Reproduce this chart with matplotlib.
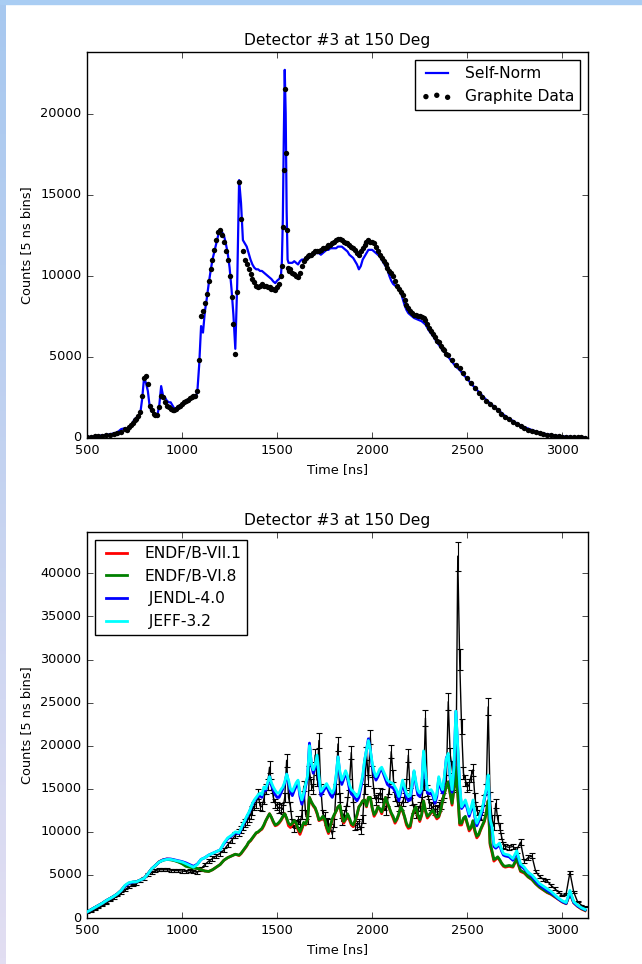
import numpy as np
import matplotlib
matplotlib.use('Agg')
import matplotlib.pyplot as plt
from matplotlib.colors import LinearSegmentedColormap
from matplotlib.patches import Rectangle

# ---- top panel: graphite run, self-normalised simulation ----
t_top = np.concatenate([np.arange(500, 700, 20), np.arange(700, 1520, 10),
                        np.arange(1520, 1560, 5), np.arange(1560, 2400, 10),
                        np.arange(2400, 3140, 20)])

graphite = [60, 80, 100, 120, 150, 180, 210, 250, 300, 380,
            # 700 - 1510
            550, 500, 650, 800, 950, 1100, 1200, 1350, 1600, 2600,
            3700, 3800, 3300, 2000, 1700, 1500, 1400, 1400, 1900, 2600,
            2500, 2200, 2000, 1900, 1800, 1750, 1750, 1800, 1900, 2000,
            2100, 2200, 2300, 2350, 2450, 2550, 2600, 2600, 2900, 4800,
            7500, 7800, 8300, 8900, 9700, 10400, 11000, 11600, 12200, 12700,
            12800, 12500, 12100, 11500, 11000, 10000, 8700, 7000, 5200, 9000,
            15800, 13500, 11500, 11000, 10700, 10400, 10100, 9800, 9600, 9400,
            9300, 9400, 9500, 9400, 9400, 9300, 9300, 9200, 9200, 9100,
            9300, 9500,
            # 1520 - 1555
            10000, 10600, 13000, 16500, 21500, 17600, 12800, 10500,
            # 1560 - 2390
            10300, 10400, 10200, 10100, 10000, 9900, 10200, 10600, 10900, 11100,
            11200, 11300, 11300, 11400, 11500, 11500, 11500, 11600, 11700, 11700,
            11800, 11900, 11900, 12000, 12100, 12200, 12300, 12300, 12200, 12100,
            12000, 12000, 11900, 11800, 11700, 11600, 11400, 11300, 11500, 11700,
            11900, 12100, 12200, 12100, 12100, 12000, 11800, 11500, 11300, 11100,
            10900, 10700, 10500, 10300, 10200, 10000, 9700, 9400, 9200, 9000,
            8800, 8500, 8200, 8000, 7800, 7700, 7600, 7600, 7500, 7500,
            7450, 7400, 7300, 7000, 6800, 6600, 6400, 6200, 6000, 5900,
            5700, 5500, 5400, 5200,
            # 2400 - 3120
            5100, 4800, 4500, 4300, 4000, 3700, 3400, 3100, 2800, 2550,
            2300, 2100, 1900, 1700, 1500, 1300, 1150, 1000, 850, 720,
            610, 520, 440, 370, 300, 250, 200, 160, 130, 100,
            85, 70, 60, 50, 40, 35, 30]

self_norm = [50, 70, 100, 130, 160, 190, 230, 280, 350, 550,
             600, 480, 550, 750, 950, 1150, 1250, 1350, 1500, 2400,
             3700, 3400, 2900, 1900, 1650, 1550, 1450, 1400, 2000, 3200,
             2600, 2500, 2300, 2200, 2200, 2000, 1800, 1800, 1900, 2000,
             2100, 2200, 2250, 2300, 2400, 2500, 2550, 2500, 2800, 4500,
             6900, 6500, 7800, 8600, 9500, 10300, 11000, 11500, 12000, 12500,
             12800, 12700, 12500, 12000, 11400, 10500, 9200, 7600, 5500, 9500,
             15900, 14500, 12200, 12000, 11800, 11400, 11000, 10700, 10500, 10400,
             10400, 10300, 10300, 10200, 10100, 10000, 9900, 9800, 9650, 9550,
             9700, 9800,
             10000, 10900, 13500, 18500, 22700, 20000, 14000, 11000,
             10800, 10800, 10800, 10900, 10800, 10700, 10900, 11000, 11000, 11100,
             11100, 11150, 11200, 11300, 11400, 11400, 11400, 11300, 11400, 11500,
             11600, 11600, 11700, 11700, 11700, 11700, 11800, 11800, 11800, 11700,
             11600, 11500, 11300, 11200, 11100, 10900, 10700, 10400, 10600, 11000,
             11200, 11400, 11600, 11600, 11600, 11500, 11400, 11300, 11200, 11000,
             10800, 10600, 10400, 10000, 9700, 9500, 9400, 9300, 9200, 9000,
             8600, 8200, 7900, 7700, 7600, 7500, 7400, 7350, 7300, 7250,
             7200, 7100, 7000, 6800, 6600, 6450, 6300, 6100, 5900, 5750,
             5600, 5400, 5300, 5100,
             5000, 4700, 4400, 4200, 3900, 3650, 3350, 3100, 2850, 2600,
             2350, 2150, 1950, 1750, 1550, 1350, 1200, 1060, 910, 780,
             670, 580, 490, 410, 340, 280, 230, 190, 150, 120,
             100, 80, 70, 60, 50, 40, 35]

# ---- bottom panel: measured spectrum vs. evaluated libraries ----
t_bot = np.concatenate([np.arange(500, 1300, 20), np.arange(1300, 2700, 10),
                        np.arange(2700, 3140, 20)])

data_bot = [600, 800, 1000, 1200, 1450, 1700, 2000, 2300, 2600, 2900,
            3300, 3600, 3800, 4000, 4300, 4600, 5000, 5300, 5500, 5600,
            5600, 5600, 5550, 5500, 5500, 5450, 5400, 5500, 5400, 5300,
            5700, 6200, 6600, 6900, 7200, 7500, 7900, 8500, 9000, 9600,
            # 1300 - 2690
            9900, 10300, 10700, 11000, 11200, 11600, 12000, 12500, 13000, 13300,
            14400, 13000, 12900, 13800, 15000, 15500, 17500, 15500, 14000, 13300,
            13000, 12700, 12800, 12600, 14000, 18300, 14000, 12900, 11000, 10400,
            10900, 11400, 11000, 12000, 15300, 12000, 11400, 17000, 15500, 15000,
            18900, 16000, 20600, 15000, 12100, 11800, 11200, 11000, 10500, 9700,
            11000, 15000, 20200, 14000, 11200, 12000, 12500, 13500, 15500, 19200,
            14000, 10600, 10800, 11000, 10200, 11500, 15000, 19100, 16000, 21000,
            17000, 14500, 13700, 14000, 14500, 14400, 13000, 12500, 13500, 15000,
            19300, 16500, 14100, 13500, 12900, 13000, 13500, 14000, 15500, 18900,
            14500, 13700, 12700, 12100, 12500, 12900, 13500, 15500, 23200, 14800,
            13300, 13000, 12800, 12500, 12600, 12900, 13200, 14000, 14500, 16000,
            25100, 19000, 17500, 15500, 15200, 42000, 30000, 22200, 16800, 16000,
            15200, 15500, 16500, 17200, 14000, 12500, 12000, 11800, 12500, 13700,
            15000, 24500, 14100, 11500, 10600, 13300, 11500, 10600, 9500, 8500,
            # 2700 - 3120
            8300, 8200, 8300, 7900, 8800, 6600, 7000, 7200, 5400, 4800,
            4500, 4300, 3800, 3400, 3000, 2600, 2800, 5300, 3000, 1900,
            1500, 1300]

data_err = [40, 50, 50, 60, 60, 70, 80, 90, 100, 110,
            120, 130, 130, 140, 150, 160, 180, 190, 190, 200,
            200, 200, 190, 190, 190, 190, 190, 190, 190, 190,
            200, 220, 230, 240, 250, 260, 280, 300, 320, 340,
            400, 410, 430, 440, 450, 460, 480, 500, 520, 530,
            580, 520, 520, 550, 600, 620, 700, 620, 560, 530,
            520, 510, 510, 500, 560, 730, 560, 520, 440, 420,
            440, 460, 440, 480, 610, 480, 460, 680, 620, 600,
            760, 640, 820, 600, 480, 470, 450, 440, 420, 390,
            440, 600, 810, 560, 450, 480, 500, 540, 620, 770,
            560, 420, 430, 440, 410, 460, 600, 760, 640, 840,
            680, 580, 550, 560, 580, 580, 520, 500, 540, 600,
            770, 660, 560, 540, 520, 520, 540, 560, 620, 760,
            580, 550, 510, 480, 500, 520, 540, 620, 930, 590,
            530, 520, 510, 500, 500, 520, 530, 560, 580, 640,
            1000, 760, 700, 620, 610, 1680, 1200, 890, 670, 640,
            610, 620, 660, 690, 560, 500, 480, 470, 500, 550,
            600, 980, 560, 460, 420, 530, 460, 420, 380, 340,
            330, 330, 330, 320, 350, 260, 280, 290, 220, 190,
            180, 170, 150, 140, 120, 100, 110, 210, 120, 80,
            60, 50]

endf71 = [700, 950, 1200, 1450, 1700, 2000, 2250, 2500, 2800, 3200,
          3750, 4050, 4150, 4200, 4400, 4600, 5100, 5700, 6100, 6550,
          6750, 6850, 6800, 6700, 6550, 6350, 6100, 6000, 5850, 5750,
          5600, 5450, 5400, 5600, 5900, 6200, 6700, 7000, 7200, 7400,
          7250, 7450, 7750, 8050, 8350, 8750, 8950, 9250, 9550, 9850,
          9950, 10150, 10300, 10700, 11250, 11700, 12100, 11650, 11100, 10700,
          10800, 11000, 11300, 11700, 12100, 11500, 10700, 10500, 10900, 11200,
          10900, 10200, 9700, 10300, 11000, 10800, 11500, 14000, 13400, 13000,
          12700, 12100, 11300, 11400, 11700, 11300, 10400, 9800, 10600, 11400,
          11900, 12400, 12900, 13000, 11800, 11000, 11400, 12000, 11400, 10800,
          10600, 11200, 11900, 12900, 13200, 13600, 13700, 12900, 14000, 14000,
          12700, 11800, 12200, 12900, 12600, 12100, 12900, 14000, 13300, 12700,
          12100, 11600, 11000, 11400, 12000, 12900, 12400, 11700, 10800, 10400,
          10500, 11700, 12500, 12800, 11900, 11200, 11900, 13600, 12400, 11600,
          11900, 12200, 12400, 11900, 11500, 11700, 12400, 13600, 14500, 15300,
          15800, 14400, 13100, 15000, 17500, 14400, 10800, 10800, 11500, 11700,
          10900, 10100, 10400, 11200, 10000, 9300, 9600, 10200, 10700, 11200,
          12200, 13600, 8500, 7600, 6600, 6800, 7000, 6700, 6300, 6000,
          5900, 6000, 5900, 6800, 5400, 5200, 4750, 4450, 3950, 3550,
          3250, 2950, 2750, 2450, 2150, 1850, 1650, 2850, 1750, 1350,
          1050, 850]

endf68 = [700, 950, 1200, 1450, 1700, 2000, 2250, 2500, 2800, 3200,
          3700, 4000, 4150, 4200, 4400, 4600, 5100, 5700, 6100, 6500,
          6700, 6800, 6750, 6650, 6500, 6300, 6000, 5900, 5800, 5750,
          5600, 5450, 5400, 5600, 5900, 6200, 6700, 7000, 7200, 7400,
          7300, 7500, 7800, 8100, 8400, 8800, 9000, 9300, 9600, 9900,
          10000, 10200, 10400, 10800, 11300, 11700, 12100, 11700, 11200, 10800,
          10900, 11100, 11400, 11800, 12100, 11600, 11000, 10800, 11000, 11300,
          11000, 10400, 10000, 10500, 11100, 10900, 11500, 14000, 13500, 13100,
          12800, 12200, 11400, 11500, 11800, 11500, 10600, 10000, 10700, 11500,
          12000, 12400, 12900, 13100, 12000, 11200, 11500, 12100, 11600, 11000,
          10800, 11300, 12000, 12900, 13200, 13600, 13700, 13000, 14000, 14000,
          12800, 12000, 12300, 12900, 12700, 12300, 13000, 14000, 13400, 12800,
          12200, 11800, 11200, 11500, 12100, 12900, 12500, 11800, 11000, 10600,
          10700, 11800, 12500, 12900, 12000, 11400, 12000, 13600, 12500, 11800,
          12000, 12300, 12500, 12000, 11700, 11800, 12500, 13600, 14500, 15300,
          15800, 14500, 13300, 15000, 17500, 14500, 11000, 11000, 11600, 11800,
          11000, 10300, 10500, 11300, 10200, 9500, 9700, 10300, 10800, 11300,
          12200, 13600, 8700, 7800, 6800, 6900, 7100, 6800, 6400, 6100,
          6000, 6100, 6000, 6900, 5500, 5300, 4800, 4500, 4000, 3600,
          3300, 3000, 2800, 2500, 2200, 1900, 1700, 2900, 1800, 1400,
          1100, 900]

jendl40 = [700, 950, 1200, 1450, 1700, 2000, 2250, 2500, 2800, 3200,
           3700, 4000, 4150, 4200, 4400, 4600, 5100, 5700, 6100, 6500,
           6750, 6850, 6850, 6750, 6650, 6550, 6400, 6200, 6000, 6250,
           6800, 7000, 7300, 7500, 7700, 7900, 8600, 9200, 9500, 9900,
           9800, 10300, 10800, 11200, 11700, 12100, 12600, 13200, 13600, 13900,
           14100, 14200, 14000, 14900, 14800, 15500, 16400, 15400, 14800, 14300,
           14000, 14000, 14500, 15000, 15600, 16700, 15700, 14600, 14200, 14800,
           15300, 15800, 14100, 13200, 14000, 15300, 16300, 20300, 17800, 16800,
           17500, 18700, 16100, 14200, 14600, 15000, 15300, 14800, 14300, 14000,
           14600, 16300, 18700, 16700, 15500, 16100, 16900, 16200, 15000, 14400,
           14200, 13900, 13600, 14000, 15100, 16200, 18200, 19500, 20800, 19500,
           17700, 16600, 16000, 16400, 17000, 17300, 16700, 16100, 15500, 15300,
           15200, 15100, 14700, 14300, 13600, 14600, 15700, 14800, 14000, 13600,
           13700, 15200, 17000, 15500, 14300, 14100, 14700, 19200, 16700, 14500,
           14400, 14500, 14100, 13300, 14100, 16200, 15100, 14500, 16300, 18600,
           19000, 16200, 14600, 17300, 24000, 19700, 15200, 12700, 13000, 13400,
           12700, 11800, 12500, 13400, 11700, 10700, 11200, 11800, 12500, 13800,
           14800, 16500, 11300, 10300, 8300, 8100, 8300, 8500, 7800, 7300,
           7200, 7100, 6700, 7600, 6100, 5700, 5300, 4800, 4300, 3800,
           3500, 3200, 2900, 2600, 2200, 1900, 1700, 3000, 1800, 1400,
           1150, 950]

jeff32 = [700, 950, 1200, 1450, 1700, 2000, 2250, 2500, 2800, 3200,
          3800, 4100, 4200, 4200, 4400, 4600, 5100, 5700, 6100, 6500,
          6700, 6800, 6800, 6700, 6600, 6500, 6300, 6100, 5900, 6200,
          6800, 7000, 7300, 7500, 7700, 7900, 8700, 9300, 9600, 10000,
          9900, 10400, 10900, 11300, 11800, 12200, 12700, 13300, 13700, 14000,
          14300, 14500, 14300, 15200, 15000, 15700, 16400, 15700, 15200, 14800,
          14500, 14500, 14900, 15200, 15800, 16700, 16000, 15000, 14700, 15200,
          15700, 16000, 14500, 13700, 14500, 15600, 16500, 20000, 18000, 17200,
          17800, 18900, 16500, 14700, 15000, 15300, 15600, 15200, 14800, 14500,
          15000, 16500, 18700, 17000, 16000, 16500, 17100, 16500, 15500, 14900,
          14700, 14400, 14100, 14500, 15500, 16500, 18300, 19500, 20600, 19500,
          18000, 17000, 16400, 16800, 17300, 17500, 17000, 16500, 16000, 15800,
          15700, 15600, 15200, 14800, 14100, 15000, 16000, 15200, 14500, 14100,
          14200, 15500, 17100, 15800, 14800, 14500, 15000, 19400, 17000, 14900,
          14800, 14900, 14500, 13700, 14500, 16400, 15500, 14900, 16500, 18500,
          19100, 16500, 14900, 17500, 24000, 19900, 15500, 12900, 13300, 13700,
          13000, 12100, 12800, 13700, 12000, 11000, 11500, 12100, 12800, 14000,
          15000, 16600, 11500, 10600, 8600, 8300, 8500, 8700, 8000, 7500,
          7400, 7300, 6900, 7800, 6300, 5900, 5300, 5000, 4500, 4000,
          3700, 3400, 3100, 2700, 2300, 2000, 1800, 3200, 1900, 1500,
          1200, 1000]

plt.style.use('classic')
plt.rcParams['font.size'] = 9.3
plt.rcParams['font.family'] = ['DejaVu Sans']

fig = plt.figure(figsize=(6.42, 9.64), dpi=100, facecolor='w')

# light window border down the left and along the top
edge = fig.add_axes([0, 0, 5.5 / 642., 1])
edge.imshow(np.linspace(0, 1, 200)[:, None], aspect='auto',
            cmap=LinearSegmentedColormap.from_list('edge', ['#a7c8ef', '#e2def2']))
edge.axis('off')
fig.patches.append(Rectangle((0, 1 - 4 / 964.), 1, 4 / 964., transform=fig.transFigure,
                             color='#a9cdf3', zorder=5))

ax1 = fig.add_axes([87 / 642., 1 - 438 / 964., 501 / 642., 386 / 964.])
ax1.plot(t_top, self_norm, color='#0000ff', lw=1.6, label='Self-Norm', zorder=2)
ax1.scatter(t_top, graphite, s=15, c='k', edgecolors='k', linewidths=0,
            label='Graphite Data', zorder=3)
ax1.set_xlim(500, 3135)
ax1.set_ylim(0, 23800)
ax1.set_xticks([500, 1000, 1500, 2000, 2500, 3000])
ax1.set_yticks([0, 5000, 10000, 15000, 20000])
ax1.set_title('Detector #3 at 150 Deg')
ax1.set_xlabel('Time [ns]')
ax1.set_ylabel('Counts [5 ns bins]')
ax1.legend(loc='upper right')

ax2 = fig.add_axes([87 / 642., 1 - 918 / 964., 501 / 642., 386 / 964.])
ax2.errorbar(t_bot, data_bot, yerr=data_err, fmt='-', color='k', lw=1.0,
             elinewidth=0.8, capsize=2.5, capthick=0.8, zorder=1)
ax2.plot(t_bot, endf71, color='#ff0000', lw=2.0, label='ENDF/B-VII.1', zorder=2)
ax2.plot(t_bot, endf68, color='#008000', lw=2.0, label='ENDF/B-VI.8', zorder=3)
ax2.plot(t_bot, jendl40, color='#0000ff', lw=2.0, label=' JENDL-4.0', zorder=4)
ax2.plot(t_bot, jeff32, color='#00ffff', lw=2.0, label=' JEFF-3.2', zorder=5)
ax2.set_xlim(500, 3135)
ax2.set_ylim(0, 44800)
ax2.set_xticks([500, 1000, 1500, 2000, 2500, 3000])
ax2.set_yticks(range(0, 45000, 5000))
ax2.set_title('Detector #3 at 150 Deg')
ax2.set_xlabel('Time [ns]')
ax2.set_ylabel('Counts [5 ns bins]')
ax2.legend(loc='upper left')

fig.savefig('out.png', dpi=100, facecolor='w')
